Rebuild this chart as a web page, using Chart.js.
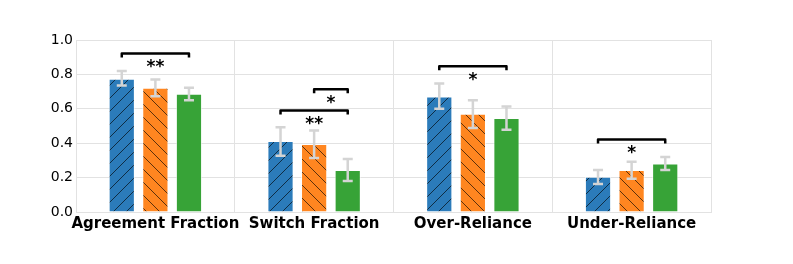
<!DOCTYPE html>
<html>
<head>
<meta charset="utf-8">
<script src="https://cdn.jsdelivr.net/npm/chart.js@4"></script>
<style>
  body { margin: 0; background: #fff; }
  #chart { display: block; }
</style>
</head>
<body>
<canvas id="chart" width="793" height="264"></canvas>
<script>
// categories and values
const categories = ['Agreement Fraction', 'Switch Fraction', 'Over-Reliance', 'Under-Reliance'];
const blueVals   = [0.775, 0.413, 0.672, 0.205];
const orangeVals = [0.722, 0.396, 0.571, 0.244];
const greenVals  = [0.687, 0.244, 0.546, 0.282];
// error bar ends (low / high)
const blueLow    = [0.735, 0.327, 0.600, 0.163];
const blueHigh   = [0.820, 0.493, 0.747, 0.244];
const orangeLow  = [0.673, 0.314, 0.489, 0.193];
const orangeHigh = [0.770, 0.474, 0.649, 0.292];
const greenLow   = [0.649, 0.180, 0.478, 0.244];
const greenHigh  = [0.723, 0.308, 0.614, 0.320];
// significance brackets
const sigCat   = [0, 1, 1, 2, 3];
const sigFrom  = [0, 0, 1, 0, 0];
const sigTo    = [2, 2, 2, 2, 2];
const sigY     = [0.922, 0.590, 0.713, 0.848, 0.421];
const sigLabel = ['**', '**', '*', '*', '*'];
const yTicks   = [0, 0.2, 0.4, 0.6, 0.8, 1.0];

function hatch(color, dir) {
  const n = 13;
  const c = document.createElement('canvas');
  c.width = n; c.height = n;
  const g = c.getContext('2d');
  g.fillStyle = color;
  g.fillRect(0, 0, n, n);
  g.strokeStyle = 'rgba(0,0,0,0.8)';
  g.lineWidth = 0.8;
  g.beginPath();
  if (dir > 0) {
    g.moveTo(0, n); g.lineTo(n, 0);
    g.moveTo(-2, 2); g.lineTo(2, -2);
    g.moveTo(n - 2, n + 2); g.lineTo(n + 2, n - 2);
  } else {
    g.moveTo(0, 0); g.lineTo(n, n);
    g.moveTo(-2, n - 2); g.lineTo(2, n + 2);
    g.moveTo(n - 2, -2); g.lineTo(n + 2, 2);
  }
  g.stroke();
  return document.getElementById('chart').getContext('2d').createPattern(c, 'repeat');
}

const lows = [blueLow, orangeLow, greenLow];
const highs = [blueHigh, orangeHigh, greenHigh];

const extras = {
  id: 'extras',
  afterDatasetsDraw(chart) {
    const ctx = chart.ctx;
    const y = chart.scales.y;
    ctx.save();
    // error bars
    ctx.strokeStyle = '#d4d4d4';
    ctx.lineWidth = 2.5;
    for (let d = 0; d < 3; d++) {
      const meta = chart.getDatasetMeta(d);
      meta.data.forEach((bar, i) => {
        const x = bar.x;
        const y1 = y.getPixelForValue(lows[d][i]);
        const y2 = y.getPixelForValue(highs[d][i]);
        ctx.beginPath();
        ctx.moveTo(x, y1); ctx.lineTo(x, y2);
        ctx.moveTo(x - 5, y1); ctx.lineTo(x + 5, y1);
        ctx.moveTo(x - 5, y2); ctx.lineTo(x + 5, y2);
        ctx.stroke();
      });
    }
    // brackets
    ctx.strokeStyle = '#000';
    ctx.fillStyle = '#000';
    ctx.lineWidth = 2.5;
    ctx.lineJoin = 'round';
    ctx.font = 'bold 17px "DejaVu Sans"';
    ctx.textAlign = 'center';
    ctx.textBaseline = 'middle';
    for (let k = 0; k < sigCat.length; k++) {
      const xa = chart.getDatasetMeta(sigFrom[k]).data[sigCat[k]].x;
      const xb = chart.getDatasetMeta(sigTo[k]).data[sigCat[k]].x;
      const yy = y.getPixelForValue(sigY[k]);
      ctx.beginPath();
      ctx.moveTo(xa, yy + 4); ctx.lineTo(xa, yy); ctx.lineTo(xb, yy); ctx.lineTo(xb, yy + 4);
      ctx.stroke();
      ctx.fillText(sigLabel[k], (xa + xb) / 2, yy + 14);
    }
    ctx.restore();
  }
};

new Chart(document.getElementById('chart'), {
  type: 'bar',
  data: {
    labels: categories,
    datasets: [
      { data: blueVals, backgroundColor: hatch('#2b7bba', 1) },
      { data: orangeVals, backgroundColor: hatch('#ff8620', -1) },
      { data: greenVals, backgroundColor: '#37a337' }
    ].map(ds => Object.assign(ds, {
      borderColor: 'rgba(255,255,255,0.6)',
      borderWidth: 1,
      barPercentage: 0.78,
      categoryPercentage: 0.635
    }))
  },
  options: {
    responsive: false,
    animation: false,
    layout: { padding: { left: 0, right: 82, top: 40, bottom: 27 } },
    plugins: { legend: { display: false }, tooltip: { enabled: false } },
    scales: {
      x: {
        grid: { color: '#e2e2e2', lineWidth: 1, drawTicks: false, offset: true },
        border: { color: '#e2e2e2' },
        ticks: {
          color: '#000',
          padding: 3,
          autoSkip: false,
          font: { family: 'DejaVu Sans', weight: 'bold', size: 15 },
          maxRotation: 0
        },
        afterFit(s) { s.height = 25; }
      },
      y: {
        min: 0, max: 1,
        afterBuildTicks(s) { s.ticks = yTicks.map(v => ({ value: v })); },
        grid: { color: '#e2e2e2', lineWidth: 1, drawTicks: false },
        border: { color: '#e2e2e2' },
        ticks: {
          color: '#000',
          padding: 3,
          font: { family: 'DejaVu Sans', size: 14 },
          callback: v => v.toFixed(1)
        },
        afterFit(s) { s.width = 76; }
      }
    }
  },
  plugins: [extras]
});
</script>
</body>
</html>
